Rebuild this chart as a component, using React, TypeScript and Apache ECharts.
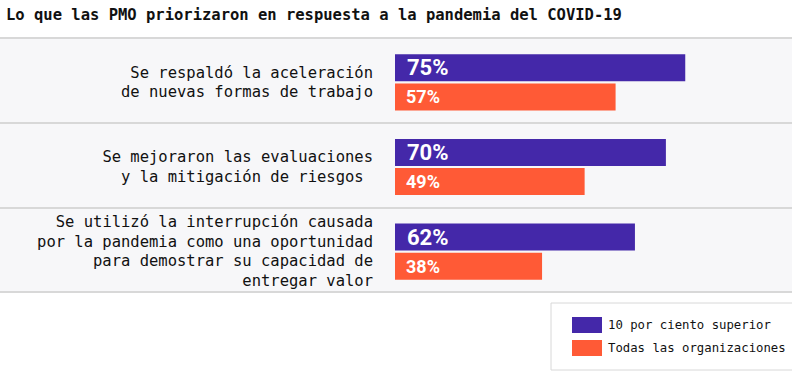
import React, { useEffect, useRef } from "react";
import * as echarts from "echarts";

const title = "Lo que las PMO priorizaron en respuesta a la pandemia del COVID-19";
const categories = [
  "Se respaldó la aceleración\nde nuevas formas de trabajo",
  "Se mejoraron las evaluaciones\ny la mitigación de riesgos\u00a0",
  "Se utilizó la interrupción causada\npor la pandemia como una oportunidad\npara demostrar su capacidad de\nentregar valor",
];
const seriesNames = ["10 por ciento superior", "Todas las organizaciones"];
const topTen = [75, 70, 62];
const allOrgs = [57, 49, 38];
const colors = ["#4428a9", "#ff5a36"];

const MONO = "'DejaVu Sans Mono', 'Liberation Mono', monospace";

export default function App() {
  const ref = useRef<HTMLDivElement>(null);
  useEffect(() => {
    const chart = echarts.init(ref.current!, null, { renderer: "svg" });
    const top = 38;
    const height = 254;
    chart.setOption({
      animation: false,
      backgroundColor: "#ffffff",
      title: {
        text: title,
        left: 1,
        top: 2,
        textStyle: { fontFamily: MONO, fontSize: 15.5, fontWeight: "bold", color: "#111111" },
      },
      legend: {
        orient: "vertical",
        left: 551,
        top: 303,
        padding: [14, 21, 14, 21],
        borderColor: "#d8d8d8",
        borderWidth: 1,
        itemWidth: 30,
        itemHeight: 16,
        itemGap: 7,
        icon: "rect",
        textStyle: { fontFamily: MONO, fontSize: 12.3, color: "#111111", padding: [0, 0, 0, 1] },
        data: seriesNames,
      },
      grid: [
        { left: 0, right: 0, top, height },
        { left: 395, right: 10, top: top + 2, height },
      ],
      xAxis: [
        { type: "value", gridIndex: 0, show: false, min: 0, max: 100 },
        {
          type: "value",
          gridIndex: 1,
          min: 0,
          max: 100,
          axisLabel: { show: false },
          axisLine: { show: false },
          axisTick: { show: false },
          splitLine: { show: false },
        },
      ],
      yAxis: [
        {
          type: "category",
          gridIndex: 0,
          inverse: true,
          data: categories,
          axisLabel: { show: false },
          axisLine: { show: false },
          axisTick: { show: false },
          splitLine: { show: true, lineStyle: { color: "#d8d8d8", width: 2 } },
          splitArea: { show: true, areaStyle: { color: ["#f7f7f9", "#f7f7f9"] } },
        },
        {
          type: "category",
          gridIndex: 1,
          inverse: true,
          data: categories,
          axisLine: { show: false },
          axisTick: { show: false },
          axisLabel: {
            margin: 22,
            fontFamily: MONO,
            fontSize: 15.5,
            lineHeight: 19.5,
            color: "#111111",
            align: "right",
          },
        },
      ],
      series: [
        {
          name: seriesNames[0],
          type: "bar",
          xAxisIndex: 1,
          yAxisIndex: 1,
          data: topTen,
          barWidth: 27,
          barGap: "8%",
          itemStyle: { color: colors[0] },
          label: {
            show: true,
            position: "insideLeft",
            distance: 12,
            formatter: "{c}%",
            color: "#ffffff",
            fontFamily: "Roboto",
            fontWeight: "bold",
            fontSize: 22,
          },
        },
        {
          name: seriesNames[1],
          type: "bar",
          xAxisIndex: 1,
          yAxisIndex: 1,
          data: allOrgs,
          barWidth: 27,
          itemStyle: { color: colors[1] },
          label: {
            show: true,
            position: "insideLeft",
            distance: 11,
            formatter: "{c}%",
            color: "#ffffff",
            fontFamily: "Roboto",
            fontWeight: "bold",
            fontSize: 18,
          },
        },
      ],
    });
    return () => chart.dispose();
  }, []);
  return <div ref={ref} style={{ width: 792, height: 372, position: "absolute", left: 0, top: 0 }} />;
}
